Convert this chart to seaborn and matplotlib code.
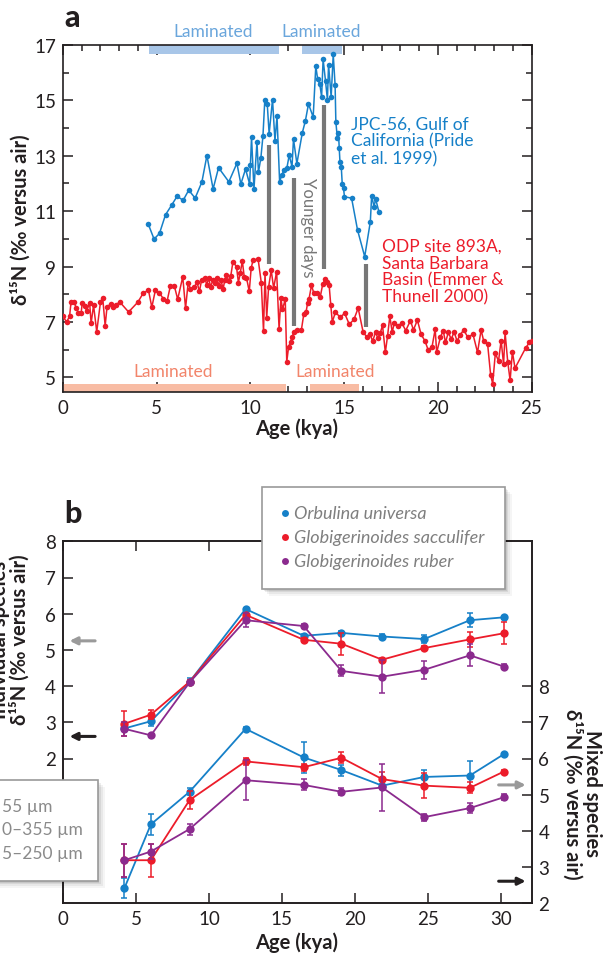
import numpy as np
import pandas as pd
import matplotlib
matplotlib.use("Agg")
import matplotlib.pyplot as plt
import seaborn as sns
from matplotlib.patches import Rectangle
from matplotlib.transforms import blended_transform_factory

# ---------------- data ----------------
sbb_age = [0.0,0.19,0.35,0.43,0.6,0.7,0.82,0.97,1.03,1.18,1.26,1.42,1.5,1.63,1.8,2.0,2.12,2.25,2.35,2.56,
           2.68,2.82,3.03,3.5,4.0,4.27,4.56,4.74,4.93,5.13,5.36,5.55,5.73,5.94,6.12,6.39,6.54,6.68,6.8,7.01,
           7.15,7.28,7.4,7.57,7.67,7.77,7.88,8.0,8.12,8.21,8.33,8.43,8.54,8.64,8.72,8.85,8.95,9.07,9.26,9.36,
           9.46,9.57,9.67,9.79,9.94,10.04,10.14,10.41,10.58,10.7,10.78,10.87,10.97,11.11,11.24,11.4,11.53,11.63,11.71,11.86,
           11.94,12.04,12.14,12.23,12.33,12.47,12.72,12.85,12.97,13.05,13.13,13.26,13.38,13.55,13.73,13.86,14.0,14.08,14.2,14.29,
           14.37,14.54,14.78,15.03,15.28,15.53,15.75,16.02,16.23,16.39,16.52,16.68,16.8,16.93,17.05,17.2,17.32,17.44,17.57,17.67,
           17.88,18.08,18.29,18.54,18.7,18.91,19.11,19.32,19.48,19.69,19.86,19.94,20.14,20.29,20.41,20.56,20.72,20.87,21.03,21.18,
           21.38,21.6,21.88,22.12,22.31,22.45,22.66,22.82,22.93,23.07,23.24,23.38,23.51,23.59,23.73,23.86,23.98,24.12,24.68,24.89,25.0]
sbb_d15n = [7.2,7.0,7.2,7.72,7.72,7.5,7.34,7.34,7.7,7.58,7.38,7.7,6.95,7.6,6.65,7.72,7.86,6.86,7.55,7.65,
            7.55,7.62,7.72,7.36,7.72,8.03,8.15,7.53,8.15,8.05,7.84,7.74,8.3,8.3,7.82,8.63,7.5,8.42,8.18,8.25,
            8.44,8.1,8.53,8.6,8.34,8.58,8.27,8.51,8.42,8.58,8.3,8.53,8.18,8.53,8.7,8.48,8.65,9.18,8.99,8.42,
            8.78,9.2,8.63,8.6,8.1,8.94,9.23,9.28,8.42,6.66,8.75,7.15,8.25,8.87,8.22,8.82,6.76,7.86,7.45,7.82,
            5.56,6.11,6.28,6.47,6.64,6.71,6.71,7.29,7.36,7.67,7.84,8.32,8.05,8.03,7.91,8.37,8.56,8.46,8.34,7.6,
            7.0,7.36,7.17,7.31,6.91,7.1,7.5,6.62,6.45,6.55,6.31,6.62,6.43,6.6,6.88,5.9,6.5,7.2,6.62,6.96,
            6.86,6.96,6.69,7.05,6.71,7.07,6.55,6.31,6.0,6.09,6.74,5.9,6.45,6.69,6.26,6.62,6.38,6.64,6.31,6.52,
            6.71,6.45,6.55,5.9,6.71,6.31,6.19,5.08,4.77,5.87,5.59,6.33,5.47,6.62,5.57,4.89,5.93,5.33,6.05,6.26,6.31]

gc_age = [4.54,4.86,5.15,5.47,5.79,6.09,6.41,6.71,7.05,7.41,7.68,8.01,8.3,8.85,9.28,9.49,9.74,9.96,10.0,10.06,
          10.19,10.35,10.43,10.56,10.67,10.77,10.9,11.0,11.18,11.31,11.42,11.56,11.68,11.8,11.95,12.07,12.22,12.3,12.48,12.77,
          12.93,13.1,13.35,13.49,13.59,13.7,13.8,13.88,14.01,14.11,14.17,14.31,14.42,14.52,14.56,14.64,14.7,14.74,14.78,14.85,
          14.9,14.97,15.02,15.4,15.72,16.1,16.4,16.47,16.6,16.68,16.86]
gc_d15n = [10.55,9.99,10.2,10.87,11.21,11.54,11.39,11.76,11.47,12.05,13.01,11.8,12.57,12.06,12.73,11.98,12.52,11.98,12.65,13.67,
           11.8,13.5,12.41,12.93,13.72,15.03,14.86,13.79,15.03,13.55,14.42,12.05,12.32,12.48,12.57,13.02,12.61,13.6,12.72,13.83,
           14.25,14.87,14.4,16.24,15.76,15.6,15.13,16.48,15.69,15.02,16.29,15.12,16.66,15.55,14.22,13.64,13.84,13.28,12.77,12.59,
           11.99,11.82,11.52,11.47,10.31,9.36,10.62,11.56,11.15,11.45,10.97]

lam_top_start = [4.6, 12.75]
lam_top_end = [11.53, 14.91]
lam_bot_start = [0.0, 13.2]
lam_bot_end = [11.9, 15.8]

event_age = [11.0, 12.3, 13.92, 16.19]
event_lo = [9.1, 6.84, 8.9, 6.8]
event_hi = [13.4, 12.2, 14.82, 9.1]

pb_age = [4.21, 6.02, 8.67, 12.51, 16.49, 19.08, 21.87, 24.75, 27.88, 30.21]
species = ["Orbulina universa", "Globigerinoides sacculifer", "Globigerinoides ruber"]
orb_ind = [2.83, 3.03, 4.12, 6.13, 5.39, 5.47, 5.37, 5.30, 5.82, 5.90]
orb_ind_err = [0.05, 0.12, 0.10, 0.04, 0.04, 0.04, 0.08, 0.10, 0.20, 0.05]
sac_ind = [2.96, 3.21, 4.12, 5.97, 5.28, 5.17, 4.73, 5.05, 5.29, 5.46]
sac_ind_err = [0.35, 0.12, 0.05, 0.05, 0.05, 0.31, 0.05, 0.05, 0.20, 0.30]
rub_ind = [2.82, 2.64, 4.10, 5.82, 5.66, 4.42, 4.26, 4.45, 4.85, 4.54]
rub_ind_err = [0.20, 0.05, 0.05, 0.20, 0.06, 0.15, 0.45, 0.25, 0.30, 0.08]
orb_mix = [2.42, 4.18, 5.08, 6.82, 6.03, 5.68, 5.25, 5.49, 5.53, 6.12]
orb_mix_err = [0.27, 0.30, 0.10, 0.04, 0.43, 0.15, 0.05, 0.20, 0.40, 0.04]
sac_mix = [3.19, 3.19, 4.85, 5.92, 5.76, 6.02, 5.43, 5.25, 5.19, 5.64]
sac_mix_err = [0.45, 0.45, 0.25, 0.10, 0.10, 0.15, 0.20, 0.35, 0.15, 0.04]
rub_mix = [3.19, 3.43, 4.05, 5.40, 5.27, 5.08, 5.20, 4.38, 4.63, 4.93]
rub_mix_err = [0.45, 0.20, 0.15, 0.55, 0.15, 0.10, 0.65, 0.10, 0.13, 0.08]
# size-class legend, as much as is visible at the figure's left edge
size_labels = ["55 µm", "0–355 µm", "5–250 µm"]

# ---------------- style ----------------
sns.set_theme(style="ticks")
plt.rcParams["font.family"] = ["Lato", "DejaVu Sans"]
BLUE = "#1680c8"
RED = "#ec1c2a"
PURPLE = "#8b2a8e"
GRAY = "#777777"
INK = "#231f20"
LBLUE = "#a8c6e8"
LBLUE_T = "#6aa6dc"
SALMON = "#f8bca4"
SALMON_T = "#f2856b"
cols = [BLUE, RED, PURPLE]
LAB = 14.5
TICK = 13.5
ANN = 12.5

W, H = 606, 954
fig = plt.figure(figsize=(W / 100, H / 100), dpi=100)
fig.patch.set_facecolor("white")

def fx(px):
    return px / W

def fy(py):
    return 1 - py / H

def style_axes(ax):
    for s in ax.spines.values():
        s.set_color(INK)
        s.set_linewidth(1.2)
        s.set_visible(True)

# ---------------- panel a ----------------
axa = fig.add_axes([fx(63), fy(393.3), fx(531.5) - fx(63), fy(46) - fy(393.3)])
axa.set_facecolor("white")
sns.lineplot(x=sbb_age, y=sbb_d15n, ax=axa, color=RED, marker="o", markersize=4,
             markeredgewidth=0, linewidth=1.1, sort=False, estimator=None, zorder=3)
sns.lineplot(x=gc_age, y=gc_d15n, ax=axa, color=BLUE, marker="o", markersize=4,
             markeredgewidth=0, linewidth=1.1, sort=False, estimator=None, zorder=3)
axa.set_xlim(0, 25)
axa.set_ylim(4.46, 17)
for a0, a1 in zip(lam_top_start, lam_top_end):
    axa.add_patch(Rectangle((a0, 16.69), a1 - a0, 0.31, facecolor=LBLUE, edgecolor="none", zorder=1))
for a0, a1 in zip(lam_bot_start, lam_bot_end):
    axa.add_patch(Rectangle((a0, 4.46), a1 - a0, 0.30, facecolor=SALMON, edgecolor="none", zorder=1))
axa.vlines(event_age, event_lo, event_hi, color=GRAY, linewidth=3, zorder=2)

axa.set_xticks(range(0, 26, 5))
axa.set_xticks(range(0, 26), minor=True)
axa.set_yticks(range(5, 18, 2))
axa.set_yticks(range(5, 18), minor=True)
axa.tick_params(which="both", direction="in", top=True, right=True, colors=INK, width=1.1)
axa.tick_params(which="major", length=7, labelsize=TICK, pad=5)
axa.tick_params(which="minor", length=4)
axa.set_xlabel("")
axa.set_ylabel("")
style_axes(axa)

trans_a = blended_transform_factory(axa.transData, axa.transAxes)
axa.text(8.0, 1.04, "Laminated", transform=trans_a, ha="center", va="center", color=LBLUE_T, fontsize=ANN)
axa.text(13.8, 1.04, "Laminated", transform=trans_a, ha="center", va="center", color=LBLUE_T, fontsize=ANN)
axa.text(5.9, 5.22, "Laminated", ha="center", va="center", color=SALMON_T, fontsize=ANN)
axa.text(14.5, 5.22, "Laminated", ha="center", va="center", color=SALMON_T, fontsize=ANN)
axa.text(13.05, 10.45, "Younger days", rotation=270, ha="center", va="center", color=GRAY, fontsize=12)
axa.text(15.38, 14.45, "JPC-56, Gulf of\nCalifornia (Pride\net al. 1999)", ha="left", va="top",
         color=BLUE, fontsize=ANN, linespacing=1.08)
axa.text(17.0, 10.05, "ODP site 893A,\nSanta Barbara\nBasin (Emmer &\nThunell 2000)", ha="left", va="top",
         color=RED, fontsize=ANN, linespacing=1.08)

fig.text(fx(64), fy(27), "a", fontsize=22, fontweight="black", color=INK, ha="left", va="baseline")
fig.text(fx(21), fy(219.5), "δ¹⁵N (‰ versus air)", rotation=90, ha="center", va="center",
         fontsize=LAB, fontweight="bold", color=INK)
fig.text(fx(297), fy(429), "Age (kya)", ha="center", va="center", fontsize=LAB, fontweight="bold", color=INK)

# ---------------- panel b ----------------
axb = fig.add_axes([fx(63), fy(904.3), fx(531.5) - fx(63), fy(542.3) - fy(904.3)])
axr = axb.twinx()
ind_vals = [orb_ind, sac_ind, rub_ind]
ind_errs = [orb_ind_err, sac_ind_err, rub_ind_err]
mix_vals = [orb_mix, sac_mix, rub_mix]
mix_errs = [orb_mix_err, sac_mix_err, rub_mix_err]
for ax, vals, errs in [(axb, ind_vals, ind_errs), (axr, mix_vals, mix_errs)]:
    for c, v, e in zip(cols, vals, errs):
        sns.lineplot(x=pb_age, y=v, ax=ax, color=c, marker="o", markersize=6, markeredgewidth=0,
                     linewidth=1.3, sort=False, estimator=None, zorder=3)
        ax.errorbar(pb_age, v, yerr=e, fmt="none", ecolor=c, elinewidth=1.1, capsize=2.5, capthick=1.1, zorder=3)

axb.set_xlim(0, 32.1)
axb.set_ylim(-2, 8)
axr.set_ylim(2, 12)
axb.set_xticks(range(0, 31, 5))
axb.set_yticks(range(2, 9))
axr.set_yticks(range(2, 9))
axb.tick_params(which="major", direction="in", top=True, length=7, width=1.1, colors=INK, labelsize=TICK, pad=5)
axr.tick_params(which="major", direction="in", length=7, width=1.1, colors=INK, labelsize=TICK, pad=5)
axb.set_xlabel("")
axb.set_ylabel("")
axr.set_ylabel("")
style_axes(axb)
style_axes(axr)
axb.grid(False)
axr.grid(False)

arrow_kw = dict(arrowstyle="-|>", lw=2.2, mutation_scale=11, shrinkA=0, shrinkB=0)
axb.annotate("", xy=(0.45, 5.25), xytext=(2.2, 5.25), arrowprops=dict(color="#9a9a9a", **arrow_kw))
axb.annotate("", xy=(0.45, 2.61), xytext=(2.2, 2.61), arrowprops=dict(color=INK, **arrow_kw))
axr.annotate("", xy=(31.7, 5.27), xytext=(29.85, 5.27), arrowprops=dict(color="#9a9a9a", **arrow_kw))
axr.annotate("", xy=(31.7, 2.61), xytext=(29.85, 2.61), arrowprops=dict(color=INK, **arrow_kw))

fig.text(fx(64), fy(523), "b", fontsize=22, fontweight="black", color=INK, ha="left", va="baseline")
fig.text(fx(10), fy(640), "Individual species\nδ¹⁵N (‰ versus air)", rotation=90, ha="center", va="center",
         fontsize=LAB, fontweight="bold", color=INK, linespacing=0.95, multialignment="center")
fig.text(fx(582), fy(794), "Mixed species\nδ¹⁵N (‰ versus air)", rotation=270, ha="center", va="center",
         fontsize=LAB, fontweight="bold", color=INK, linespacing=0.95, multialignment="center")
fig.text(fx(297), fy(943), "Age (kya)", ha="center", va="center", fontsize=LAB, fontweight="bold", color=INK)

# ---------------- overlay (legend boxes) ----------------
ov = fig.add_axes([0, 0, 1, 1])
ov.set_xlim(0, W)
ov.set_ylim(H, 0)
ov.axis("off")

def shadow_box(x0, y0, x1, y1):
    for k, al in [(7, 0.04), (5, 0.05), (3, 0.07), (1.5, 0.08)]:
        ov.add_patch(Rectangle((x0 + k, y0 + k), x1 - x0, y1 - y0, facecolor="black", alpha=al,
                               edgecolor="none", zorder=1))
    ov.add_patch(Rectangle((x0, y0), x1 - x0, y1 - y0, facecolor="white", edgecolor="#9a9a9a",
                           linewidth=1.2, zorder=2))

shadow_box(262, 488, 505, 590)
for i, (c, name) in enumerate(zip(cols, species)):
    yy = 514 + 24 * i
    ov.plot([285], [yy], marker="o", markersize=5, color=c, markeredgewidth=0, zorder=3)
    ov.text(294, yy, name, ha="left", va="center", fontsize=13, style="italic", color="#7f7f7f", zorder=3)

shadow_box(-10, 781, 97.8, 882)
for i, lab in enumerate(size_labels):
    ov.text(2, 807 + 23.5 * i, lab, ha="left", va="center", fontsize=12.5, color="#8a8a8a", zorder=3)

fig.savefig("out.png", dpi=100, facecolor="white")
